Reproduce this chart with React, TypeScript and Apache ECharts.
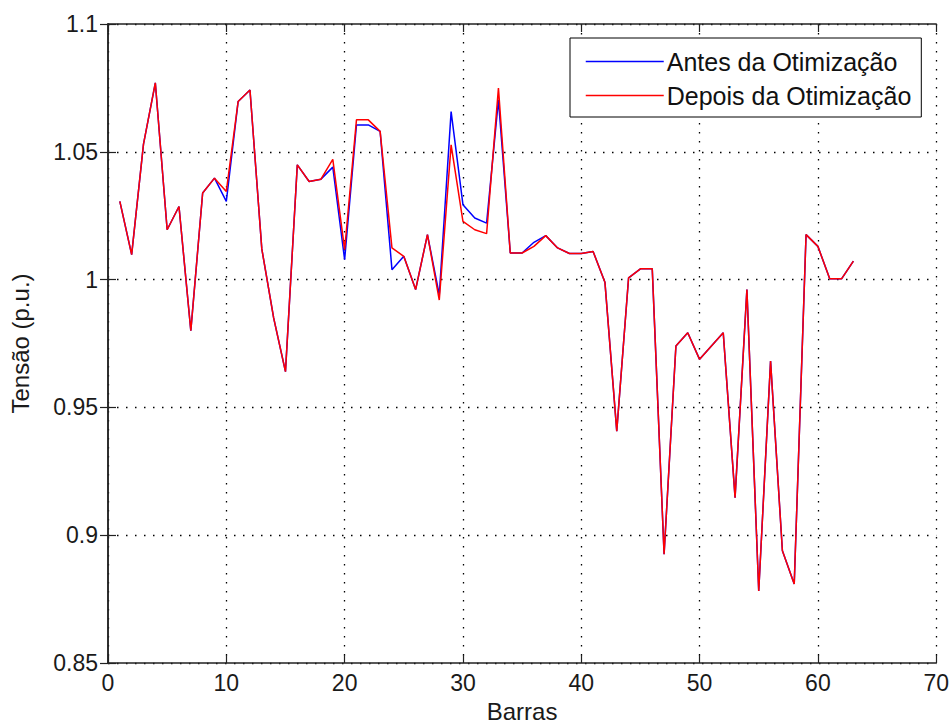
import React, { useEffect, useRef } from "react";
import * as echarts from "echarts";

const barras = [
  1, 2, 3, 4, 5, 6, 7, 8, 9, 10, 11, 12, 13, 14, 15, 16, 17, 18, 19, 20, 21,
  22, 23, 24, 25, 26, 27, 28, 29, 30, 31, 32, 33, 34, 35, 36, 37, 38, 39, 40,
  41, 42, 43, 44, 45, 46, 47, 48, 49, 50, 51, 52, 53, 54, 55, 56, 57, 58, 59,
  60, 61, 62, 63,
];

const depois = [
  1.0306, 1.0098, 1.053, 1.077, 1.0195, 1.0286, 0.98, 1.0339, 1.0397, 1.0345,
  1.0697, 1.0742, 1.012, 0.985, 0.964, 1.0449, 1.0384, 1.0393, 1.047, 1.0117,
  1.0625, 1.0625, 1.058, 1.0124, 1.0091, 0.9961, 1.0176, 0.992, 1.0527, 1.0228,
  1.0195, 1.018, 1.0749, 1.0104, 1.0104, 1.013, 1.0172, 1.0124, 1.0102, 1.0102,
  1.011, 0.999, 0.9407, 1.0007, 1.0042, 1.0042, 0.8926, 0.974, 0.9792, 0.9688,
  0.974, 0.9792, 0.9147, 0.9961, 0.8782, 0.9681, 0.8939, 0.8809, 1.0176, 1.013,
  1.0003, 1.0003, 1.0072,
];

const antes = [
  1.0306, 1.0098, 1.053, 1.077, 1.0195, 1.0286, 0.98, 1.0339, 1.0397, 1.0306,
  1.0697, 1.0742, 1.012, 0.985, 0.964, 1.0449, 1.0384, 1.0393, 1.044, 1.0078,
  1.0605, 1.0605, 1.058, 1.0039, 1.0091, 0.9961, 1.0176, 0.994, 1.0657, 1.0293,
  1.0241, 1.0221, 1.0703, 1.0104, 1.0104, 1.0146, 1.0172, 1.0124, 1.0102, 1.0102,
  1.011, 0.999, 0.9407, 1.0007, 1.0042, 1.0042, 0.8926, 0.974, 0.9792, 0.9688,
  0.974, 0.9792, 0.9147, 0.9961, 0.8782, 0.9681, 0.8939, 0.8809, 1.0176, 1.013,
  1.0003, 1.0003, 1.0072,
];

const seriesNames = ["Antes da Otimização", "Depois da Otimização"];
const xLabel = "Barras";
const yLabel = "Tensão (p.u.)";

const FONT = "'Liberation Sans', Arial, Helvetica, sans-serif";

export default function App() {
  const ref = useRef<HTMLDivElement>(null);

  useEffect(() => {
    if (!ref.current) return;
    const chart = echarts.init(ref.current, undefined, { renderer: "svg" });
    const gridLine = {
      show: true,
      lineStyle: { color: "#000", width: 1.3, type: [1.5, 7.5] as any },
    };
    const axisLine = { show: true, lineStyle: { color: "#222", width: 1.5 } };
    const tickIn = { show: true, inside: true, length: 8, lineStyle: { color: "#222", width: 1.2 } };
    const labelStyle = { color: "#1a1a1a", fontSize: 23, fontFamily: FONT };

    chart.setOption({
      animation: false,
      backgroundColor: "#fff",
      grid: { left: 106, right: 13, top: 24, bottom: 64 },
      xAxis: [
        {
          type: "value",
          min: 0,
          max: 70,
          interval: 10,
          position: "bottom",
          name: xLabel,
          nameLocation: "middle",
          nameGap: 36,
          nameTextStyle: { color: "#1a1a1a", fontSize: 24, fontFamily: FONT },
          axisLine,
          axisTick: tickIn,
          axisLabel: { ...labelStyle, margin: 8 },
          splitLine: gridLine,
        },
        {
          type: "value",
          min: 0,
          max: 70,
          interval: 10,
          position: "top",
          axisLine,
          axisTick: tickIn,
          axisLabel: { show: false },
          splitLine: { show: false },
        },
      ],
      yAxis: [
        {
          type: "value",
          min: 0.85,
          max: 1.1,
          interval: 0.05,
          position: "left",
          name: yLabel,
          nameLocation: "middle",
          nameGap: 76,
          nameTextStyle: { color: "#1a1a1a", fontSize: 24, fontFamily: FONT },
          axisLine,
          axisTick: tickIn,
          axisLabel: { ...labelStyle, margin: 10 },
          splitLine: gridLine,
        },
        {
          type: "value",
          min: 0.85,
          max: 1.1,
          interval: 0.05,
          position: "right",
          axisLine,
          axisTick: tickIn,
          axisLabel: { show: false },
          splitLine: { show: false },
        },
      ],
      legend: {
        show: true,
        orient: "vertical",
        left: 570,
        top: 38,
        padding: [11, 10, 9, 15],
        itemGap: 9,
        itemWidth: 78,
        itemHeight: 25,
        borderColor: "#000",
        borderWidth: 1,
        backgroundColor: "#fff",
        itemStyle: { opacity: 0 },
        lineStyle: { width: 1.5 },
        textStyle: { color: "#111", fontSize: 25, fontFamily: FONT, lineHeight: 25, padding: [0, 0, 0, -2] },
        data: seriesNames,
      },
      series: [
        {
          name: seriesNames[0],
          type: "line",
          symbol: "none",
          lineStyle: { color: "#0000ff", width: 1.5 },
          itemStyle: { color: "#0000ff" },
          data: barras.map((b, i) => [b, antes[i]]),
          z: 2,
        },
        {
          name: seriesNames[1],
          type: "line",
          symbol: "none",
          lineStyle: { color: "#ff0000", width: 1.5 },
          itemStyle: { color: "#ff0000" },
          data: barras.map((b, i) => [b, depois[i]]),
          z: 3,
        },
      ],
    });
    return () => chart.dispose();
  }, []);

  return (
    <div
      ref={ref}
      style={{ position: "fixed", left: 0, top: 0, width: 952, height: 728, background: "#fff" }}
    />
  );
}
